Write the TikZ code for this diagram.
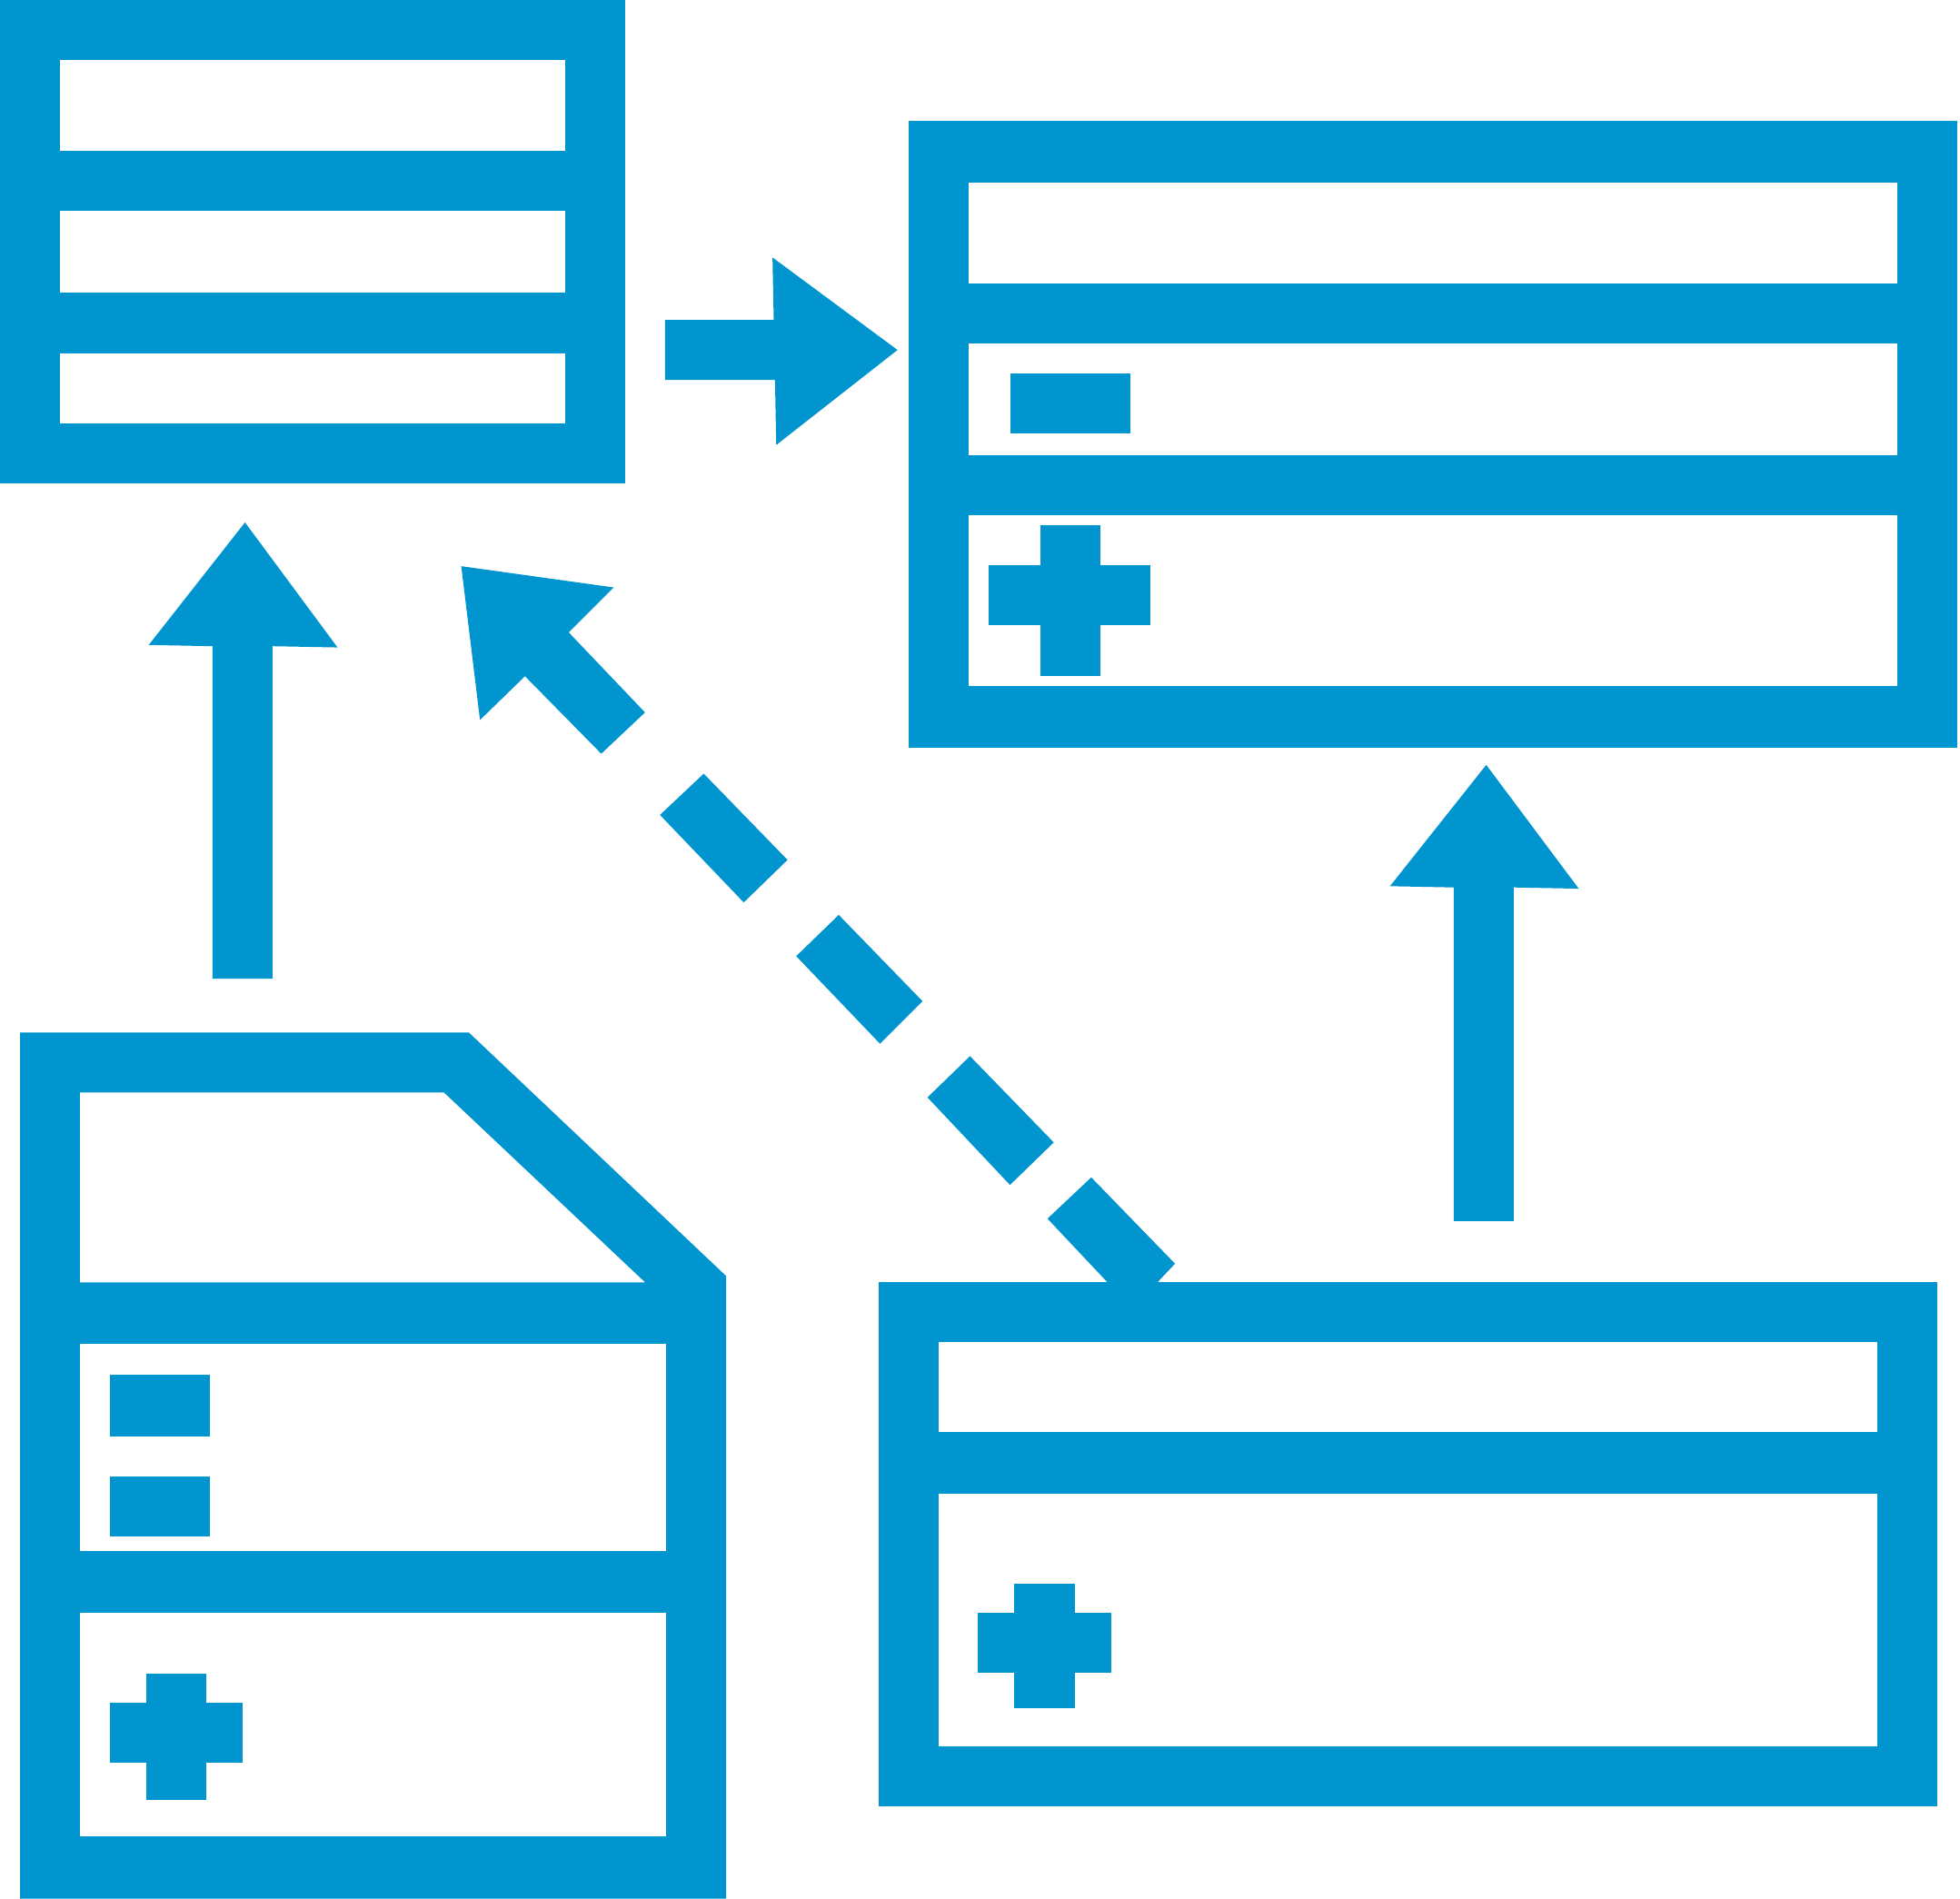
\documentclass[tikz,border=0pt]{standalone}
\definecolor{iconblue}{HTML}{0095CE}
\tikzset{blue part/.style={fill=iconblue,draw=none}, white part/.style={fill=white,draw=none}}
\begin{document}
\begin{tikzpicture}[x=0.01cm,y=-0.01cm]
\useasboundingbox (0,0) rectangle (1568,1519);
% top-left table
\fill[blue part] (0,0) rectangle (500,387);
\fill[white part] (48,48) rectangle (452,121);
\fill[white part] (48,169) rectangle (452,234);
\fill[white part] (48,283) rectangle (452,339);
% top-right table
\fill[blue part] (727,97) rectangle (1566,598);
\fill[white part] (775,146) rectangle (1518,227);
\fill[white part] (775,275) rectangle (1518,364);
\fill[white part] (775,412) rectangle (1518,549);
\fill[blue part] (808,299) rectangle (904,347);
\fill[blue part] (832,420) rectangle (880,541);
\fill[blue part] (791,452) rectangle (920,500);
% bottom-left table
\fill[blue part] (16,826) -- (375,826) -- (581,1021) -- (581,1519) -- (16,1519) -- cycle;
\fill[white part] (64,874) -- (355,874) -- (516,1026) -- (64,1026) -- cycle;
\fill[white part] (64,1075) rectangle (533,1241);
\fill[white part] (64,1290) rectangle (533,1469);
\fill[blue part] (88,1100) rectangle (168,1149);
\fill[blue part] (88,1181) rectangle (168,1229);
\fill[blue part] (117,1339) rectangle (165,1440);
\fill[blue part] (88,1362) rectangle (194,1410);
% bottom-right table
\fill[blue part] (703,1026) rectangle (1550,1445);
\fill[white part] (751,1074) rectangle (1502,1146);
\fill[white part] (751,1195) rectangle (1502,1397);
\fill[blue part] (811,1267) rectangle (860,1367);
\fill[blue part] (782,1290) rectangle (889,1338);
% right arrow
\fill[blue part] (532,256) -- (619,256) -- (618,206) -- (718,280) -- (621,356) -- (620,304) -- (532,304) -- cycle;
% up arrow left
\fill[blue part] (170,783) -- (170,517) -- (119,516) -- (196,418) -- (270,518) -- (218,517) -- (218,783) -- cycle;
% up arrow right
\fill[blue part] (1163,977) -- (1163,710) -- (1112,709) -- (1189,612) -- (1263,711) -- (1211,710) -- (1211,977) -- cycle;
% dashed diagonal arrow
\fill[blue part] (369,453) -- (491,470) -- (455,506) -- (516,570) -- (481,603) -- (420,541) -- (384,576) -- cycle;
\fill[blue part] (528,652) -- (563,619) -- (630,688) -- (595,722) -- cycle;
\fill[blue part] (637,765) -- (671,732) -- (738,801) -- (704,835) -- cycle;
\fill[blue part] (742,878) -- (776,845) -- (843,914) -- (808,948) -- cycle;
\fill[blue part] (838,975) -- (873,942) -- (940,1011) -- (925,1027) -- (887,1027) -- cycle;
\end{tikzpicture}
\end{document}
